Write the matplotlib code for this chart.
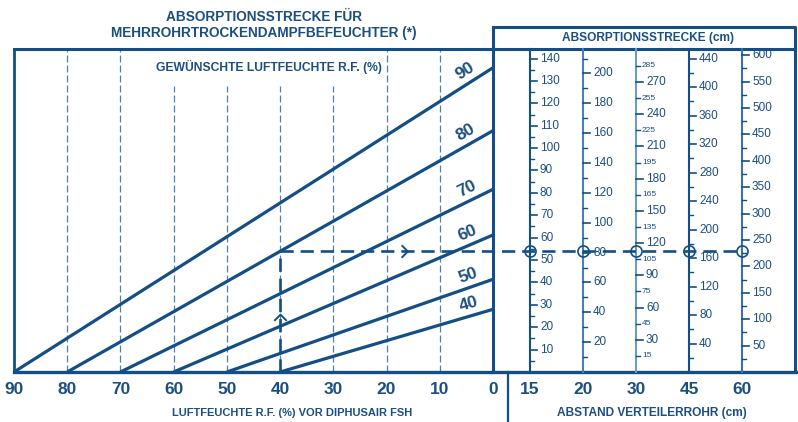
import matplotlib.pyplot as plt
import numpy as np
from matplotlib.path import Path

plt.rcParams['font.family'] = ['Liberation Sans', 'DejaVu Sans']
plt.rcParams['lines.scale_dashes'] = False

BLUE = '#134e86'
TEXT = '#1b4f82'
GRID = '#4f80b0'

# lines of desired humidity: RF where absorption is zero, absorption at RF 0 (15 cm scale)
desired_rf = [90, 80, 70, 60, 50, 40]
end_value = [135.9, 107.8, 81.6, 61.2, 41.4, 28.0]

rf_ticks = [90, 80, 70, 60, 50, 40, 30, 20, 10, 0]
grid_full = [80, 70, 20, 10]
grid_short = [60, 50, 40, 30]

# right hand scales (distance of distributor pipes)
pipe_cm = ['15', '20', '30', '45', '60']
scale_factor = [1.0, 1.5, 2.085, 3.145, 4.24]
label_step = [10, 20, 30, 40, 50]
minor_step = [5, 10, 15, 20, 25]
small_minor_labels = [False, False, True, False, False]
scale_color = [BLUE, '#4d7fb0', '#7199c2', BLUE, '#3c72a8']

# worked example
example_rf = 40
example_target = 80

# layout: data units <-> pixels
PX_X = 479 / 90.0
PX_Y = 2.239
def dx(px):
    return (493 - px) / PX_X
def dy(py):
    return (372 - py) / PX_Y

fig = plt.figure(figsize=(7.98, 4.22), dpi=100)
ax = fig.add_axes([0, 0, 1, 1])
ax.set_xlim(dx(0), dx(798))
ax.set_ylim(dy(422), dy(0))
ax.axis('off')

top = dy(48.5)
rbox_top = dy(27)
rbox_right = dx(795)
scale_x = [dx(530 + 53 * i) for i in range(len(pipe_cm))]

# frames
ax.plot([90, 90], [0, top], color=BLUE, lw=2, solid_capstyle='projecting')
ax.plot([90, rbox_right], [top, top], color=BLUE, lw=2.2)
ax.plot([0, 0], [0, rbox_top], color=BLUE, lw=2.2)
ax.plot([0, rbox_right, rbox_right], [rbox_top, rbox_top, 0], color=BLUE, lw=2.2)
ax.plot([90, dx(798)], [0, 0], color=BLUE, lw=2.4)
ax.plot([dx(508), dx(508)], [0, dy(422)], color=BLUE, lw=1.6)

# grid
for g in grid_full:
    ax.plot([g, g], [0, top], color=GRID, lw=0.9, dashes=(5, 2.2), zorder=1)
for g in grid_short:
    ax.plot([g, g], [0, dy(86)], color=GRID, lw=0.9, dashes=(5, 2.2), zorder=1)

# humidity lines
for rf, ev in zip(desired_rf, end_value):
    ax.plot([rf, 0], [0, ev], color=BLUE, lw=2.3, zorder=3, solid_capstyle='butt')
    ang = np.arctan2(ev * PX_Y, rf * PX_X)
    xl = 4
    yl = ev * (1 - xl / rf)
    d = 12 * 0.72
    ax.annotate(str(rf), (xl, yl), xytext=(-d * np.sin(ang), d * np.cos(ang)),
                textcoords='offset points', ha='center', va='center',
                rotation=np.degrees(ang), rotation_mode='anchor',
                fontsize=12.5, fontweight='bold', color=TEXT)

# right scales
for i, (xs, f) in enumerate(zip(scale_x, scale_factor)):
    ax.plot([xs, xs], [0, top], color=scale_color[i], lw=1.5, zorder=2)
    vmax = 143.5 * f
    step = label_step[i]
    ms = minor_step[i]
    for v in np.arange(ms, vmax, ms):
        y = v / f
        major = abs(v / step - round(v / step)) < 1e-6
        if major:
            ax.plot([xs, xs - 7 / PX_X], [y, y], color=BLUE, lw=1.2, zorder=2)
            ax.text(xs - 10 / PX_X, y, '%d' % v, ha='left', va='center',
                    fontsize=8.5, color=TEXT)
        elif small_minor_labels[i]:
            ax.plot([xs, xs - 4 / PX_X], [y, y], color=BLUE, lw=1.0, zorder=2)
            ax.text(xs - 6 / PX_X, y, '%d' % v, ha='left', va='center',
                    fontsize=6, color=TEXT)
        else:
            ax.plot([xs, xs - 4 / PX_X], [y, y], color=BLUE, lw=1.0, zorder=2)

# example path
ey = end_value[desired_rf.index(example_target)] * (1 - example_rf / example_target)
ax.plot([example_rf, example_rf], [0, ey], color=BLUE, lw=1.9, dashes=(9.5, 5), zorder=4)
ax.plot([example_rf, scale_x[-1]], [ey, ey], color=BLUE, lw=1.9, dashes=(9.5, 5), zorder=4)
ax.plot(scale_x, [ey] * len(scale_x), ls='none', marker='o', ms=8, mfc='none',
        mec=BLUE, mew=1.2, zorder=5)
chev_up = Path([(-1, -0.7), (0, 0.3), (1, -0.7)], [Path.MOVETO, Path.LINETO, Path.LINETO])
chev_right = Path([(-0.3, 1), (0.7, 0), (-0.3, -1)], [Path.MOVETO, Path.LINETO, Path.LINETO])
ax.plot([example_rf], [dy(316)], marker=chev_up, ms=9, mfc='none', mec=BLUE, mew=1.4, zorder=5)
ax.plot([dx(403)], [ey], marker=chev_right, ms=9, mfc='none', mec=BLUE, mew=1.4, zorder=5)

# tick labels
for t in rf_ticks:
    ax.text(t, dy(389), str(t), ha='center', va='center', fontsize=12.5,
            fontweight='bold', color=TEXT)
for xs, lab in zip(scale_x, pipe_cm):
    ax.text(xs, dy(389), lab, ha='center', va='center', fontsize=12.5,
            fontweight='bold', color=TEXT)

# titles
ax.text(dx(264), dy(17), 'ABSORPTIONSSTRECKE FÜR', ha='center', va='center',
        fontsize=9.8, fontweight='bold', color=TEXT)
ax.text(dx(264), dy(33), 'MEHRROHRTROCKENDAMPFBEFEUCHTER (*)', ha='center', va='center',
        fontsize=9.8, fontweight='bold', color=TEXT)
ax.text(dx(269), dy(67), 'GEWÜNSCHTE LUFTFEUCHTE R.F. (%)', ha='center', va='center',
        fontsize=8.7, fontweight='bold', color=TEXT)
ax.text(dx(648), dy(38), 'ABSORPTIONSSTRECKE (cm)', ha='center', va='center',
        fontsize=8.6, fontweight='bold', color=TEXT)
ax.text(dx(292), dy(413), 'LUFTFEUCHTE R.F. (%) VOR DIPHUSAIR FSH', ha='center', va='center',
        fontsize=8.0, fontweight='bold', color=TEXT)
ax.text(dx(652), dy(413), 'ABSTAND VERTEILERROHR (cm)', ha='center', va='center',
        fontsize=8.6, fontweight='bold', color=TEXT)

fig.savefig('out.png', dpi=100)
